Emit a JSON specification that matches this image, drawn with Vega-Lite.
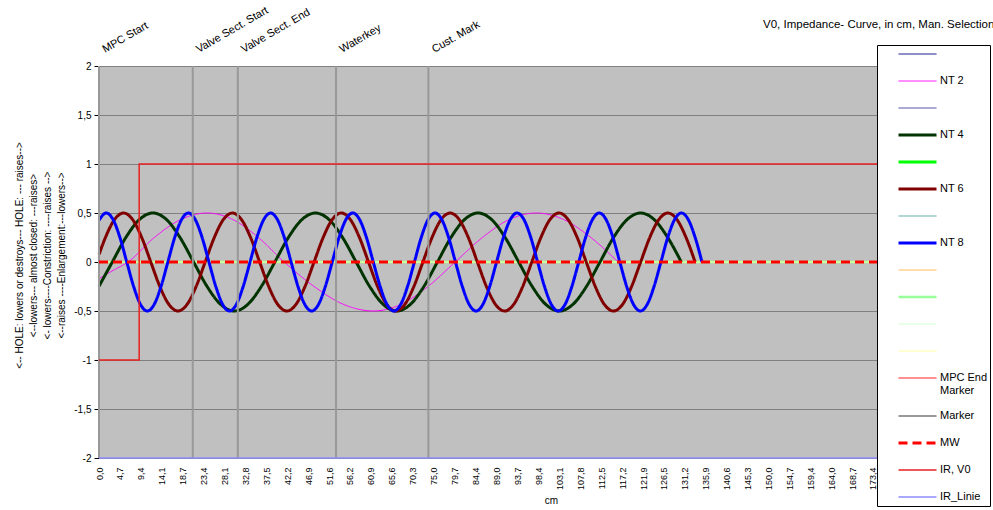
{
  "$schema": "https://vega.github.io/schema/vega-lite/v6.json",
  "width": 778,
  "height": 392,
  "autosize": {"type": "none"},
  "padding": {"left": 99, "top": 66, "right": 116, "bottom": 52},
  "background": "white",
  "title": {
    "text": "V0, Impedance- Curve,  in cm, Man. Selection",
    "anchor": "start",
    "frame": "group",
    "dx": 664,
    "dy": 26,
    "offset": 0,
    "font": "Liberation Sans",
    "fontSize": 11.5,
    "fontWeight": "normal",
    "color": "#000000"
  },
  "config": {
    "font": "Liberation Sans",
    "view": {"fill": "#C0C0C0", "stroke": "#808080", "strokeWidth": 1},
    "axis": {
      "labelFont": "Liberation Sans",
      "titleFont": "Liberation Sans",
      "labelColor": "#000000",
      "titleColor": "#000000",
      "titleFontWeight": "normal"
    }
  },
  "encoding": {
    "x": {
      "field": "x",
      "type": "quantitative",
      "scale": {"domain": [0, 174.3], "nice": false, "zero": false},
      "axis": {
        "title": "cm",
        "values": [0, 4.7, 9.4, 14.1, 18.7, 23.4, 28.1, 32.8, 37.5, 42.2, 46.9, 51.6, 56.2, 60.9, 65.6, 70.3, 75.0, 79.7, 84.4, 89.0, 93.7, 98.4, 103.1, 107.8, 112.5, 117.2, 121.9, 126.5, 131.2, 135.9, 140.6, 145.3, 150.0, 154.7, 159.4, 164.0, 168.7, 173.4],
        "labelExpr": "replace(format(datum.value, '.1f'), '.', ',')",
        "labelAngle": -90,
        "labelAlign": "right",
        "labelBaseline": "middle",
        "labelFontSize": 9,
        "labelPadding": 9,
        "labelOverlap": false,
        "labelFlush": false,
        "ticks": false,
        "grid": false,
        "domain": false,
        "titleFontSize": 10,
        "titleX": 452,
        "titleY": 42,
        "titleBaseline": "middle",
        "titleAlign": "center"
      }
    },
    "y": {
      "field": "y",
      "type": "quantitative",
      "scale": {"domain": [-2, 2], "nice": false, "zero": false},
      "axis": {
        "title": [
          "<-- HOLE: lowers or destroys--- HOLE: --- raises-->",
          "<--lowers--- almost closed: ---raises>",
          "<- lowers----Constriction: ----raises -->",
          "<--raises ----Enlargement:---lowers-->"
        ],
        "values": [-2, -1.5, -1, -0.5, 0, 0.5, 1, 1.5, 2],
        "labelExpr": "replace(toString(datum.value), '.', ',')",
        "labelFontSize": 10,
        "labelPadding": 3,
        "tickSize": 5,
        "tickColor": "#000000",
        "domainColor": "#808080",
        "grid": true,
        "gridColor": "#808080",
        "gridOpacity": 1,
        "gridWidth": 1,
        "titleFontSize": 10,
        "titleLineHeight": 14,
        "titleAngle": 270,
        "titleAlign": "center",
        "titleBaseline": "middle",
        "titleX": -80,
        "titleY": 189
      }
    }
  },
  "layer": [
    {
      "data": {
        "values": [
          {"s": "NT 10", "x": 0, "y": 0}, {"s": "NT 10", "x": 174.3, "y": 0},
          {"s": "NT 12", "x": 0, "y": 0}, {"s": "NT 12", "x": 174.3, "y": 0},

          {"s": "NT 2", "x": 0, "y": -0.17}, {"s": "NT 2", "x": 3.2, "y": -0.085}, {"s": "NT 2", "x": 6.5, "y": 0},
          {"s": "NT 2", "x": 12.4, "y": 0.25}, {"s": "NT 2", "x": 18.3, "y": 0.433}, {"s": "NT 2", "x": 24.2, "y": 0.5},
          {"s": "NT 2", "x": 30.0, "y": 0.433}, {"s": "NT 2", "x": 35.7, "y": 0.25}, {"s": "NT 2", "x": 41.5, "y": 0},
          {"s": "NT 2", "x": 48.2, "y": -0.25}, {"s": "NT 2", "x": 54.8, "y": -0.433}, {"s": "NT 2", "x": 61.5, "y": -0.5},
          {"s": "NT 2", "x": 67.6, "y": -0.433}, {"s": "NT 2", "x": 73.7, "y": -0.25}, {"s": "NT 2", "x": 79.8, "y": 0},
          {"s": "NT 2", "x": 85.9, "y": 0.25}, {"s": "NT 2", "x": 91.9, "y": 0.433}, {"s": "NT 2", "x": 98.0, "y": 0.5},
          {"s": "NT 2", "x": 104.1, "y": 0.433}, {"s": "NT 2", "x": 110.2, "y": 0.25}, {"s": "NT 2", "x": 116.3, "y": 0},

          {"s": "NT 4", "x": 0, "y": -0.247}, {"s": "NT 4", "x": 2.98, "y": 0}, {"s": "NT 4", "x": 6.01, "y": 0.25}, {"s": "NT 4", "x": 9.05, "y": 0.433},
          {"s": "NT 4", "x": 12.08, "y": 0.5}, {"s": "NT 4", "x": 15.12, "y": 0.433}, {"s": "NT 4", "x": 18.15, "y": 0.25}, {"s": "NT 4", "x": 21.19, "y": 0},
          {"s": "NT 4", "x": 24.22, "y": -0.25}, {"s": "NT 4", "x": 27.26, "y": -0.433}, {"s": "NT 4", "x": 30.29, "y": -0.5}, {"s": "NT 4", "x": 33.33, "y": -0.433},
          {"s": "NT 4", "x": 36.36, "y": -0.25}, {"s": "NT 4", "x": 39.40, "y": 0}, {"s": "NT 4", "x": 42.43, "y": 0.25}, {"s": "NT 4", "x": 45.47, "y": 0.433},
          {"s": "NT 4", "x": 48.50, "y": 0.5}, {"s": "NT 4", "x": 51.54, "y": 0.433}, {"s": "NT 4", "x": 54.57, "y": 0.25}, {"s": "NT 4", "x": 57.61, "y": 0},
          {"s": "NT 4", "x": 60.64, "y": -0.25}, {"s": "NT 4", "x": 63.68, "y": -0.433}, {"s": "NT 4", "x": 66.71, "y": -0.5}, {"s": "NT 4", "x": 69.75, "y": -0.433},
          {"s": "NT 4", "x": 72.78, "y": -0.25}, {"s": "NT 4", "x": 75.82, "y": 0}, {"s": "NT 4", "x": 78.85, "y": 0.25}, {"s": "NT 4", "x": 81.89, "y": 0.433},
          {"s": "NT 4", "x": 84.92, "y": 0.5}, {"s": "NT 4", "x": 87.96, "y": 0.433}, {"s": "NT 4", "x": 90.99, "y": 0.25}, {"s": "NT 4", "x": 94.03, "y": 0},
          {"s": "NT 4", "x": 97.06, "y": -0.25}, {"s": "NT 4", "x": 100.10, "y": -0.433}, {"s": "NT 4", "x": 103.13, "y": -0.5}, {"s": "NT 4", "x": 106.17, "y": -0.433},
          {"s": "NT 4", "x": 109.20, "y": -0.25}, {"s": "NT 4", "x": 112.24, "y": 0}, {"s": "NT 4", "x": 115.27, "y": 0.25}, {"s": "NT 4", "x": 118.31, "y": 0.433},
          {"s": "NT 4", "x": 121.34, "y": 0.5}, {"s": "NT 4", "x": 124.38, "y": 0.433}, {"s": "NT 4", "x": 127.41, "y": 0.25}, {"s": "NT 4", "x": 130.45, "y": 0},

          {"s": "NT 6", "x": 0, "y": 0.076}, {"s": "NT 6", "x": 1.44, "y": 0.25}, {"s": "NT 6", "x": 3.47, "y": 0.433},
          {"s": "NT 6", "x": 5.50, "y": 0.5}, {"s": "NT 6", "x": 7.53, "y": 0.433}, {"s": "NT 6", "x": 9.57, "y": 0.25}, {"s": "NT 6", "x": 11.60, "y": 0},
          {"s": "NT 6", "x": 13.63, "y": -0.25}, {"s": "NT 6", "x": 15.66, "y": -0.433}, {"s": "NT 6", "x": 17.70, "y": -0.5}, {"s": "NT 6", "x": 19.73, "y": -0.433},
          {"s": "NT 6", "x": 21.76, "y": -0.25}, {"s": "NT 6", "x": 23.79, "y": 0}, {"s": "NT 6", "x": 25.83, "y": 0.25}, {"s": "NT 6", "x": 27.86, "y": 0.433},
          {"s": "NT 6", "x": 29.89, "y": 0.5}, {"s": "NT 6", "x": 31.92, "y": 0.433}, {"s": "NT 6", "x": 33.96, "y": 0.25}, {"s": "NT 6", "x": 35.99, "y": 0},
          {"s": "NT 6", "x": 38.02, "y": -0.25}, {"s": "NT 6", "x": 40.05, "y": -0.433}, {"s": "NT 6", "x": 42.09, "y": -0.5}, {"s": "NT 6", "x": 44.12, "y": -0.433},
          {"s": "NT 6", "x": 46.15, "y": -0.25}, {"s": "NT 6", "x": 48.18, "y": 0}, {"s": "NT 6", "x": 50.22, "y": 0.25}, {"s": "NT 6", "x": 52.25, "y": 0.433},
          {"s": "NT 6", "x": 54.28, "y": 0.5}, {"s": "NT 6", "x": 56.31, "y": 0.433}, {"s": "NT 6", "x": 58.35, "y": 0.25}, {"s": "NT 6", "x": 60.38, "y": 0},
          {"s": "NT 6", "x": 62.41, "y": -0.25}, {"s": "NT 6", "x": 64.44, "y": -0.433}, {"s": "NT 6", "x": 66.48, "y": -0.5}, {"s": "NT 6", "x": 68.51, "y": -0.433},
          {"s": "NT 6", "x": 70.54, "y": -0.25}, {"s": "NT 6", "x": 72.57, "y": 0}, {"s": "NT 6", "x": 74.61, "y": 0.25}, {"s": "NT 6", "x": 76.64, "y": 0.433},
          {"s": "NT 6", "x": 78.67, "y": 0.5}, {"s": "NT 6", "x": 80.70, "y": 0.433}, {"s": "NT 6", "x": 82.74, "y": 0.25}, {"s": "NT 6", "x": 84.77, "y": 0},
          {"s": "NT 6", "x": 86.80, "y": -0.25}, {"s": "NT 6", "x": 88.83, "y": -0.433}, {"s": "NT 6", "x": 90.87, "y": -0.5}, {"s": "NT 6", "x": 92.90, "y": -0.433},
          {"s": "NT 6", "x": 94.93, "y": -0.25}, {"s": "NT 6", "x": 96.96, "y": 0}, {"s": "NT 6", "x": 99.00, "y": 0.25}, {"s": "NT 6", "x": 101.03, "y": 0.433},
          {"s": "NT 6", "x": 103.06, "y": 0.5}, {"s": "NT 6", "x": 105.09, "y": 0.433}, {"s": "NT 6", "x": 107.13, "y": 0.25}, {"s": "NT 6", "x": 109.16, "y": 0},
          {"s": "NT 6", "x": 111.19, "y": -0.25}, {"s": "NT 6", "x": 113.22, "y": -0.433}, {"s": "NT 6", "x": 115.26, "y": -0.5}, {"s": "NT 6", "x": 117.29, "y": -0.433},
          {"s": "NT 6", "x": 119.32, "y": -0.25}, {"s": "NT 6", "x": 121.35, "y": 0}, {"s": "NT 6", "x": 123.39, "y": 0.25}, {"s": "NT 6", "x": 125.42, "y": 0.433},
          {"s": "NT 6", "x": 127.45, "y": 0.5}, {"s": "NT 6", "x": 129.48, "y": 0.433}, {"s": "NT 6", "x": 131.52, "y": 0.25}, {"s": "NT 6", "x": 133.55, "y": 0},

          {"s": "NT 8", "x": 0, "y": 0.426},
          {"s": "NT 8", "x": 1.62, "y": 0.5}, {"s": "NT 8", "x": 3.15, "y": 0.433}, {"s": "NT 8", "x": 4.69, "y": 0.25}, {"s": "NT 8", "x": 6.22, "y": 0},
          {"s": "NT 8", "x": 7.76, "y": -0.25}, {"s": "NT 8", "x": 9.29, "y": -0.433}, {"s": "NT 8", "x": 10.83, "y": -0.5}, {"s": "NT 8", "x": 12.36, "y": -0.433},
          {"s": "NT 8", "x": 13.89, "y": -0.25}, {"s": "NT 8", "x": 15.43, "y": 0}, {"s": "NT 8", "x": 16.96, "y": 0.25}, {"s": "NT 8", "x": 18.50, "y": 0.433},
          {"s": "NT 8", "x": 20.03, "y": 0.5}, {"s": "NT 8", "x": 21.56, "y": 0.433}, {"s": "NT 8", "x": 23.10, "y": 0.25}, {"s": "NT 8", "x": 24.63, "y": 0},
          {"s": "NT 8", "x": 26.17, "y": -0.25}, {"s": "NT 8", "x": 27.70, "y": -0.433}, {"s": "NT 8", "x": 29.24, "y": -0.5}, {"s": "NT 8", "x": 30.77, "y": -0.433},
          {"s": "NT 8", "x": 32.30, "y": -0.25}, {"s": "NT 8", "x": 33.84, "y": 0}, {"s": "NT 8", "x": 35.37, "y": 0.25}, {"s": "NT 8", "x": 36.91, "y": 0.433},
          {"s": "NT 8", "x": 38.44, "y": 0.5}, {"s": "NT 8", "x": 39.97, "y": 0.433}, {"s": "NT 8", "x": 41.51, "y": 0.25}, {"s": "NT 8", "x": 43.04, "y": 0},
          {"s": "NT 8", "x": 44.58, "y": -0.25}, {"s": "NT 8", "x": 46.11, "y": -0.433}, {"s": "NT 8", "x": 47.65, "y": -0.5}, {"s": "NT 8", "x": 49.18, "y": -0.433},
          {"s": "NT 8", "x": 50.71, "y": -0.25}, {"s": "NT 8", "x": 52.25, "y": 0}, {"s": "NT 8", "x": 53.78, "y": 0.25}, {"s": "NT 8", "x": 55.32, "y": 0.433},
          {"s": "NT 8", "x": 56.85, "y": 0.5}, {"s": "NT 8", "x": 58.38, "y": 0.433}, {"s": "NT 8", "x": 59.92, "y": 0.25}, {"s": "NT 8", "x": 61.45, "y": 0},
          {"s": "NT 8", "x": 62.99, "y": -0.25}, {"s": "NT 8", "x": 64.52, "y": -0.433}, {"s": "NT 8", "x": 66.06, "y": -0.5}, {"s": "NT 8", "x": 67.59, "y": -0.433},
          {"s": "NT 8", "x": 69.12, "y": -0.25}, {"s": "NT 8", "x": 70.66, "y": 0}, {"s": "NT 8", "x": 72.19, "y": 0.25}, {"s": "NT 8", "x": 73.73, "y": 0.433},
          {"s": "NT 8", "x": 75.26, "y": 0.5}, {"s": "NT 8", "x": 76.79, "y": 0.433}, {"s": "NT 8", "x": 78.33, "y": 0.25}, {"s": "NT 8", "x": 79.86, "y": 0},
          {"s": "NT 8", "x": 81.40, "y": -0.25}, {"s": "NT 8", "x": 82.93, "y": -0.433}, {"s": "NT 8", "x": 84.47, "y": -0.5}, {"s": "NT 8", "x": 86.00, "y": -0.433},
          {"s": "NT 8", "x": 87.53, "y": -0.25}, {"s": "NT 8", "x": 89.07, "y": 0}, {"s": "NT 8", "x": 90.60, "y": 0.25}, {"s": "NT 8", "x": 92.14, "y": 0.433},
          {"s": "NT 8", "x": 93.67, "y": 0.5}, {"s": "NT 8", "x": 95.20, "y": 0.433}, {"s": "NT 8", "x": 96.74, "y": 0.25}, {"s": "NT 8", "x": 98.27, "y": 0},
          {"s": "NT 8", "x": 99.81, "y": -0.25}, {"s": "NT 8", "x": 101.34, "y": -0.433}, {"s": "NT 8", "x": 102.88, "y": -0.5}, {"s": "NT 8", "x": 104.41, "y": -0.433},
          {"s": "NT 8", "x": 105.94, "y": -0.25}, {"s": "NT 8", "x": 107.48, "y": 0}, {"s": "NT 8", "x": 109.01, "y": 0.25}, {"s": "NT 8", "x": 110.55, "y": 0.433},
          {"s": "NT 8", "x": 112.08, "y": 0.5}, {"s": "NT 8", "x": 113.61, "y": 0.433}, {"s": "NT 8", "x": 115.15, "y": 0.25}, {"s": "NT 8", "x": 116.68, "y": 0},
          {"s": "NT 8", "x": 118.22, "y": -0.25}, {"s": "NT 8", "x": 119.75, "y": -0.433}, {"s": "NT 8", "x": 121.29, "y": -0.5}, {"s": "NT 8", "x": 122.82, "y": -0.433},
          {"s": "NT 8", "x": 124.35, "y": -0.25}, {"s": "NT 8", "x": 125.89, "y": 0}, {"s": "NT 8", "x": 127.42, "y": 0.25}, {"s": "NT 8", "x": 128.96, "y": 0.433},
          {"s": "NT 8", "x": 130.49, "y": 0.5}, {"s": "NT 8", "x": 132.02, "y": 0.433}, {"s": "NT 8", "x": 133.56, "y": 0.25}, {"s": "NT 8", "x": 135.09, "y": 0}
        ]
      },
      "mark": {"type": "line", "interpolate": "monotone"},
      "encoding": {
        "color": {
          "field": "s",
          "type": "nominal",
          "scale": {
            "domain": ["NT 1", "NT 2", "NT 3", "NT 4", "NT 5", "NT 6", "NT 7", "NT 8", "NT 9", "NT 10", "NT 11", "NT 12", "MPC End Marker", "Marker", "MW", "IR, V0", "IR_Linie"],
            "range": ["#000080", "#FF00FF", "#3F3FA0", "#003300", "#00FF00", "#800000", "#4FA3A3", "#0000FF", "#FFB347", "#99FF99", "#CCFFCC", "#FFFF99", "#FF0000", "#999999", "#FF0000", "#E82020", "#8C8CFF"]
          },
          "legend": {
            "orient": "none",
            "legendX": 778,
            "legendY": -21,
            "title": null,
            "symbolType": "stroke",
            "symbolSize": 1444,
            "symbolOffset": 18,
            "labelOffset": 2,
            "padding": 2,
            "clipHeight": 14,
            "rowPadding": 13,
            "labelFont": "Liberation Sans",
            "labelFontSize": 11,
            "labelColor": "#000000",
            "labelLimit": 200,
            "labelExpr": "datum.label == 'MPC End Marker' ? ['MPC End', 'Marker'] : (indexof(['NT 2', 'NT 4', 'NT 6', 'NT 8', 'Marker', 'MW', 'IR, V0', 'IR_Linie'], datum.label) >= 0 ? datum.label : '')",
            "strokeColor": "#000000",
            "fillColor": "#FFFFFF"
          }
        },
        "strokeWidth": {
          "field": "s",
          "type": "nominal",
          "scale": {
            "type": "ordinal",
            "domain": ["NT 1", "NT 2", "NT 3", "NT 4", "NT 5", "NT 6", "NT 7", "NT 8", "NT 9", "NT 10", "NT 11", "NT 12", "MPC End Marker", "Marker", "MW", "IR, V0", "IR_Linie"],
            "range": [1, 1, 1, 3, 3, 3, 1, 3, 1, 2.5, 1, 1, 1, 2, 3, 1.5, 1.5]
          }
        },
        "strokeDash": {
          "field": "s",
          "type": "nominal",
          "scale": {
            "domain": ["NT 1", "NT 2", "NT 3", "NT 4", "NT 5", "NT 6", "NT 7", "NT 8", "NT 9", "NT 10", "NT 11", "NT 12", "MPC End Marker", "Marker", "MW", "IR, V0", "IR_Linie"],
            "range": [[1, 0], [1, 0], [1, 0], [1, 0], [1, 0], [1, 0], [1, 0], [1, 0], [1, 0], [1, 0], [1, 0], [1, 0], [1, 0], [1, 0], [9, 5], [1, 0], [1, 0]]
          }
        }
      }
    },
    {
      "data": {
        "values": [
          {"s": "Marker", "g": "m1", "x": 0, "y": -2}, {"s": "Marker", "g": "m1", "x": 0, "y": 2},
          {"s": "Marker", "g": "m2", "x": 21.0, "y": -2}, {"s": "Marker", "g": "m2", "x": 21.0, "y": 2},
          {"s": "Marker", "g": "m3", "x": 31.1, "y": -2}, {"s": "Marker", "g": "m3", "x": 31.1, "y": 2},
          {"s": "Marker", "g": "m4", "x": 53.1, "y": -2}, {"s": "Marker", "g": "m4", "x": 53.1, "y": 2},
          {"s": "Marker", "g": "m5", "x": 73.8, "y": -2}, {"s": "Marker", "g": "m5", "x": 73.8, "y": 2},
          {"s": "IR, V0", "g": "ir", "x": 0, "y": -1}, {"s": "IR, V0", "g": "ir", "x": 9.0, "y": -1},
          {"s": "IR, V0", "g": "ir", "x": 9.0, "y": 1}, {"s": "IR, V0", "g": "ir", "x": 174.3, "y": 1},
          {"s": "IR_Linie", "g": "irl", "x": 0, "y": -2}, {"s": "IR_Linie", "g": "irl", "x": 174.3, "y": -2},
          {"s": "MW", "g": "mw", "x": 0, "y": 0}, {"s": "MW", "g": "mw", "x": 174.3, "y": 0}
        ]
      },
      "mark": {"type": "line", "interpolate": "linear"},
      "encoding": {
        "detail": {"field": "g", "type": "nominal"},
        "color": {
          "field": "s",
          "type": "nominal",
          "scale": {
            "domain": ["NT 1", "NT 2", "NT 3", "NT 4", "NT 5", "NT 6", "NT 7", "NT 8", "NT 9", "NT 10", "NT 11", "NT 12", "MPC End Marker", "Marker", "MW", "IR, V0", "IR_Linie"],
            "range": ["#000080", "#FF00FF", "#3F3FA0", "#003300", "#00FF00", "#800000", "#4FA3A3", "#0000FF", "#FFB347", "#99FF99", "#CCFFCC", "#FFFF99", "#FF0000", "#999999", "#FF0000", "#E82020", "#8C8CFF"]
          }
        },
        "strokeWidth": {
          "field": "s",
          "type": "nominal",
          "scale": {
            "type": "ordinal",
            "domain": ["NT 1", "NT 2", "NT 3", "NT 4", "NT 5", "NT 6", "NT 7", "NT 8", "NT 9", "NT 10", "NT 11", "NT 12", "MPC End Marker", "Marker", "MW", "IR, V0", "IR_Linie"],
            "range": [1, 1, 1, 3, 3, 3, 1, 3, 1, 2.5, 1, 1, 1, 2, 3, 1.5, 1.5]
          }
        },
        "strokeDash": {
          "field": "s",
          "type": "nominal",
          "scale": {
            "domain": ["NT 1", "NT 2", "NT 3", "NT 4", "NT 5", "NT 6", "NT 7", "NT 8", "NT 9", "NT 10", "NT 11", "NT 12", "MPC End Marker", "Marker", "MW", "IR, V0", "IR_Linie"],
            "range": [[1, 0], [1, 0], [1, 0], [1, 0], [1, 0], [1, 0], [1, 0], [1, 0], [1, 0], [1, 0], [1, 0], [1, 0], [1, 0], [1, 0], [9, 5], [1, 0], [1, 0]]
          }
        }
      }
    },
    {
      "data": {
        "values": [
          {"x": 0, "y": 2, "t": "MPC Start"},
          {"x": 21.0, "y": 2, "t": "Valve Sect. Start"},
          {"x": 31.1, "y": 2, "t": "Valve Sect. End"},
          {"x": 53.1, "y": 2, "t": "Waterkey"},
          {"x": 73.8, "y": 2, "t": "Cust. Mark"}
        ]
      },
      "mark": {
        "type": "text",
        "align": "left",
        "baseline": "alphabetic",
        "angle": 330,
        "dx": 11.7,
        "dy": -8.3,
        "font": "Liberation Sans",
        "fontSize": 11,
        "fill": "#000000",
        "opacity": 1,
        "clip": false
      },
      "encoding": {
        "x": {"field": "x", "type": "quantitative"},
        "y": {"field": "y", "type": "quantitative"},
        "text": {"field": "t", "type": "nominal"}
      }
    }
  ]
}
